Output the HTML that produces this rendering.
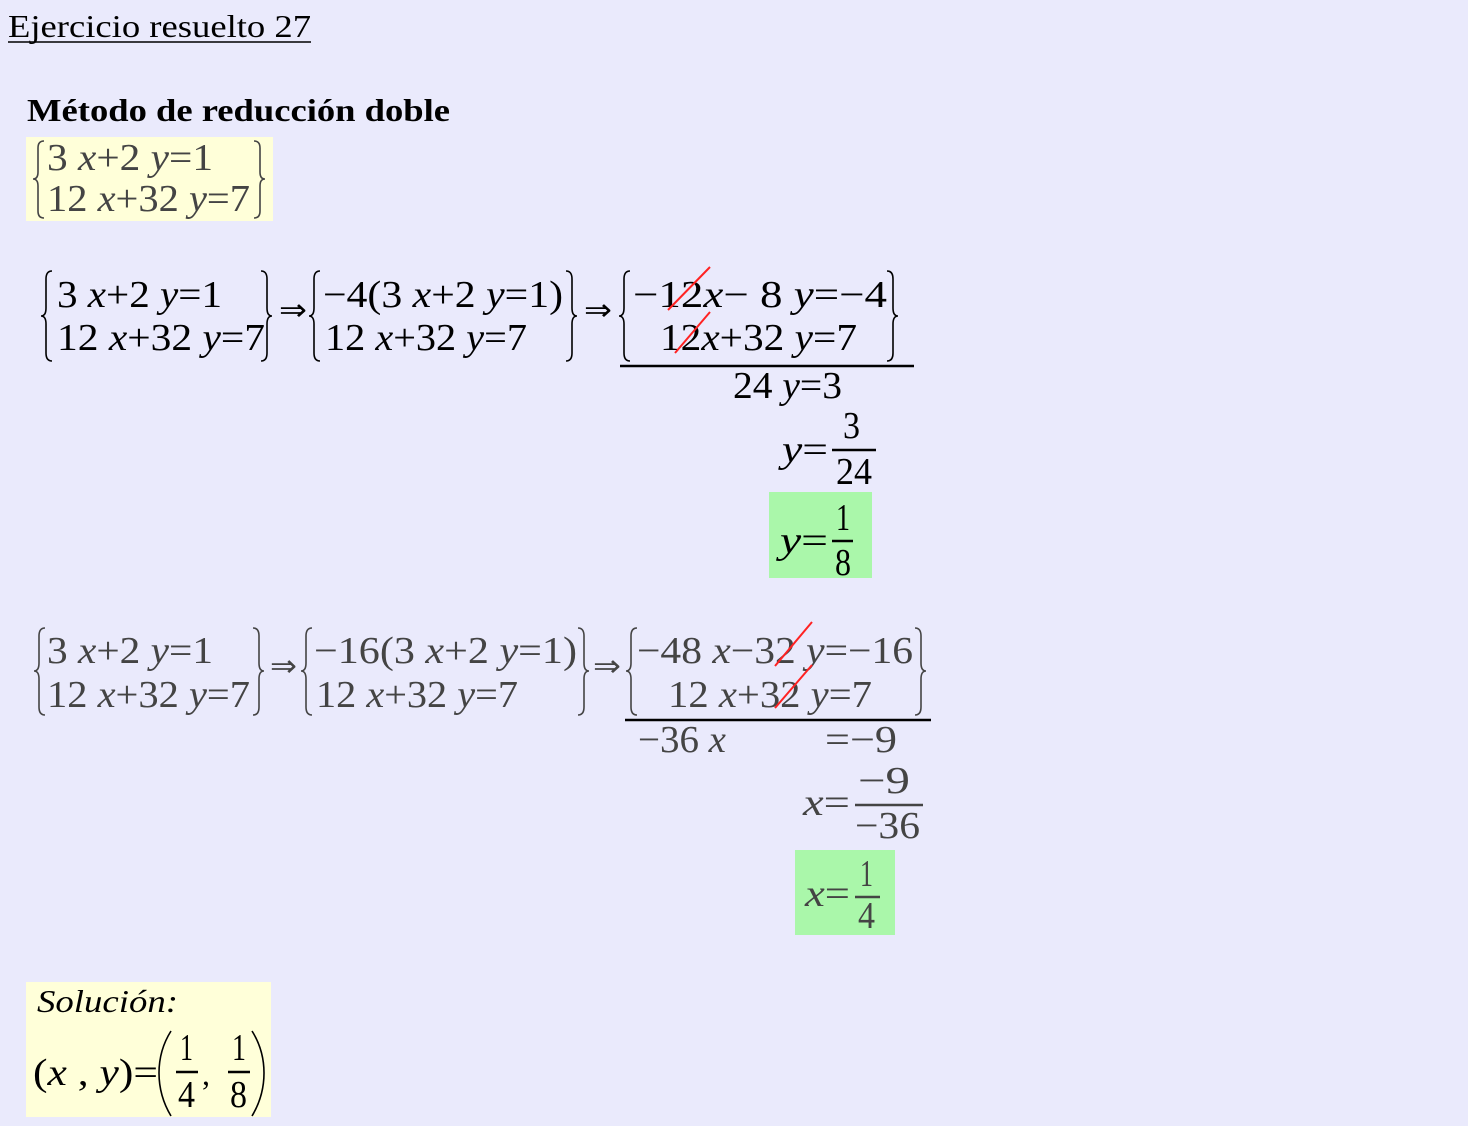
<!DOCTYPE html>
<html><head><meta charset="utf-8"><style>
html,body{margin:0;padding:0;background:#EAEAFC;width:1468px;height:1126px;overflow:hidden}
svg{display:block}
text{font-family:"Liberation Serif",serif;font-size:38px}
.i{font-style:italic}
.g{fill:#444}
.b{fill:none;stroke-width:1.6}
</style></head><body>
<svg width="1468" height="1126" viewBox="0 0 1468 1126">
<defs></defs>
<text x="8" y="37" style="font-size:32px" textLength="303" lengthAdjust="spacingAndGlyphs">Ejercicio resuelto 27</text>
<line x1="8" y1="42" x2="311" y2="42" stroke="#000" stroke-width="1.5"/>
<text x="27" y="121" style="font-size:32px;font-weight:bold" textLength="423" lengthAdjust="spacingAndGlyphs">Método de reducción doble</text>

<!-- yellow box 1 -->
<rect x="26" y="137" width="247" height="84" fill="#FFFFD9"/>
<g class="g">
<text x="47" y="170" textLength="166" lengthAdjust="spacingAndGlyphs">3 <tspan class="i">x</tspan>+2 <tspan class="i">y</tspan>=1</text>
<text x="47" y="211" textLength="203" lengthAdjust="spacingAndGlyphs">12 <tspan class="i">x</tspan>+32 <tspan class="i">y</tspan>=7</text>
</g>
<path class="b" stroke="#444" d="M44,141 Q38,141 38,148 L38,172 Q38,179 33,179 Q38,179 38,186 L38,211 Q38,218 44,218"/>
<path class="b" stroke="#444" d="M254,141 Q260,141 260,148 L260,172 Q260,179 265,179 Q260,179 260,186 L260,211 Q260,218 254,218"/>

<!-- system 2 -->
<text x="57" y="307" textLength="165" lengthAdjust="spacingAndGlyphs">3 <tspan class="i">x</tspan>+2 <tspan class="i">y</tspan>=1</text>
<text x="57" y="350" textLength="208" lengthAdjust="spacingAndGlyphs">12 <tspan class="i">x</tspan>+32 <tspan class="i">y</tspan>=7</text>
<path class="b" stroke="#000" d="M52,271 Q46,271 46,279 L46,308 Q46,316 41,316 Q46,316 46,324 L46,353 Q46,361 52,361"/>
<path class="b" stroke="#000" d="M261,271 Q267,271 267,279 L267,308 Q267,316 272,316 Q267,316 267,324 L267,353 Q267,361 261,361"/>
<text x="279" y="320" style="font-size:30px" textLength="28" lengthAdjust="spacingAndGlyphs">⇒</text>
<text x="323" y="307" textLength="240" lengthAdjust="spacingAndGlyphs">−4(3 <tspan class="i">x</tspan>+2 <tspan class="i">y</tspan>=1)</text>
<text x="325" y="350" textLength="202" lengthAdjust="spacingAndGlyphs">12 <tspan class="i">x</tspan>+32 <tspan class="i">y</tspan>=7</text>
<path class="b" stroke="#000" d="M320,271 Q314,271 314,279 L314,308 Q314,316 309,316 Q314,316 314,324 L314,353 Q314,361 320,361"/>
<path class="b" stroke="#000" d="M566,271 Q572,271 572,279 L572,308 Q572,316 577,316 Q572,316 572,324 L572,353 Q572,361 566,361"/>
<text x="584" y="320" style="font-size:30px" textLength="28" lengthAdjust="spacingAndGlyphs">⇒</text>
<text x="633" y="307" textLength="254" lengthAdjust="spacingAndGlyphs">−12<tspan class="i">x</tspan>−  8 <tspan class="i">y</tspan>=−4</text>
<text x="660" y="350" textLength="197" lengthAdjust="spacingAndGlyphs">12<tspan class="i">x</tspan>+32 <tspan class="i">y</tspan>=7</text>
<path class="b" stroke="#000" d="M630,271 Q624,271 624,279 L624,308 Q624,316 619,316 Q624,316 624,324 L624,353 Q624,361 630,361"/>
<path class="b" stroke="#000" d="M887,271 Q893,271 893,279 L893,308 Q893,316 898,316 Q893,316 893,324 L893,353 Q893,361 887,361"/>
<line x1="668" y1="310" x2="710" y2="267" stroke="#f22" stroke-width="2"/>
<line x1="675" y1="353" x2="710" y2="312" stroke="#f22" stroke-width="2"/>
<line x1="620" y1="366" x2="914" y2="366" stroke="#000" stroke-width="2.5"/>
<text x="733" y="398" textLength="109" lengthAdjust="spacingAndGlyphs">24 <tspan class="i">y</tspan>=3</text>
<text x="782" y="462" textLength="46" lengthAdjust="spacingAndGlyphs"><tspan class="i">y</tspan>=</text>
<text x="843" y="438" textLength="17" lengthAdjust="spacingAndGlyphs">3</text>
<line x1="832" y1="450" x2="876" y2="450" stroke="#000" stroke-width="2.5"/>
<text x="836" y="484" textLength="36" lengthAdjust="spacingAndGlyphs">24</text>
<rect x="769" y="492" width="103" height="86" fill="#AAF7AA"/>
<text x="780" y="553" textLength="48" lengthAdjust="spacingAndGlyphs"><tspan class="i">y</tspan>=</text>
<text x="836" y="530" textLength="14" lengthAdjust="spacingAndGlyphs">1</text>
<line x1="832" y1="541" x2="853" y2="541" stroke="#000" stroke-width="2.5"/>
<text x="835" y="575" textLength="16" lengthAdjust="spacingAndGlyphs">8</text>

<!-- system 3 -->
<g class="g">
<text x="47" y="663" textLength="166" lengthAdjust="spacingAndGlyphs">3 <tspan class="i">x</tspan>+2 <tspan class="i">y</tspan>=1</text>
<text x="47" y="707" textLength="203" lengthAdjust="spacingAndGlyphs">12 <tspan class="i">x</tspan>+32 <tspan class="i">y</tspan>=7</text>
<text x="270" y="676" style="font-size:30px" textLength="27" lengthAdjust="spacingAndGlyphs">⇒</text>
<text x="314" y="663" textLength="263" lengthAdjust="spacingAndGlyphs">−16(3 <tspan class="i">x</tspan>+2 <tspan class="i">y</tspan>=1)</text>
<text x="316" y="707" textLength="202" lengthAdjust="spacingAndGlyphs">12 <tspan class="i">x</tspan>+32 <tspan class="i">y</tspan>=7</text>
<text x="593" y="676" style="font-size:30px" textLength="28" lengthAdjust="spacingAndGlyphs">⇒</text>
<text x="637" y="663" textLength="276" lengthAdjust="spacingAndGlyphs">−48 <tspan class="i">x</tspan>−32 <tspan class="i">y</tspan>=−16</text>
<text x="668" y="707" textLength="204" lengthAdjust="spacingAndGlyphs">12 <tspan class="i">x</tspan>+32 <tspan class="i">y</tspan>=7</text>
<text x="638" y="752" textLength="88" lengthAdjust="spacingAndGlyphs">−36 <tspan class="i">x</tspan></text>
<text x="825" y="752" textLength="72" lengthAdjust="spacingAndGlyphs">=−9</text>
<text x="803" y="815" textLength="47" lengthAdjust="spacingAndGlyphs"><tspan class="i">x</tspan>=</text>
<text x="858" y="793" textLength="52" lengthAdjust="spacingAndGlyphs">−9</text>
<text x="855" y="838" textLength="65" lengthAdjust="spacingAndGlyphs">−36</text>
</g>
<path class="b" stroke="#444" d="M45,628 Q39,628 39,636 L39,663 Q39,671 34,671 Q39,671 39,679 L39,707 Q39,715 45,715"/>
<path class="b" stroke="#444" d="M253,628 Q259,628 259,636 L259,663 Q259,671 264,671 Q259,671 259,679 L259,707 Q259,715 253,715"/>
<path class="b" stroke="#444" d="M312,628 Q306,628 306,636 L306,663 Q306,671 301,671 Q306,671 306,679 L306,707 Q306,715 312,715"/>
<path class="b" stroke="#444" d="M578,628 Q584,628 584,636 L584,663 Q584,671 589,671 Q584,671 584,679 L584,707 Q584,715 578,715"/>
<path class="b" stroke="#444" d="M637,628 Q631,628 631,636 L631,663 Q631,671 626,671 Q631,671 631,679 L631,707 Q631,715 637,715"/>
<path class="b" stroke="#444" d="M915,628 Q921,628 921,636 L921,663 Q921,671 926,671 Q921,671 921,679 L921,707 Q921,715 915,715"/>
<line x1="775" y1="666" x2="812" y2="622" stroke="#f22" stroke-width="2"/>
<line x1="775" y1="708" x2="812" y2="665" stroke="#f22" stroke-width="2"/>
<line x1="625" y1="720" x2="931" y2="720" stroke="#000" stroke-width="2.5"/>
<line x1="855" y1="805" x2="923" y2="805" stroke="#444" stroke-width="2.5"/>
<rect x="795" y="850" width="100" height="85" fill="#AAF7AA"/>
<g class="g">
<text x="805" y="906" textLength="45" lengthAdjust="spacingAndGlyphs"><tspan class="i">x</tspan>=</text>
<text x="860" y="886" textLength="13" lengthAdjust="spacingAndGlyphs">1</text>
<text x="858" y="928" textLength="17" lengthAdjust="spacingAndGlyphs">4</text>
</g>
<line x1="855" y1="897" x2="880" y2="897" stroke="#444" stroke-width="2.5"/>

<!-- solution -->
<rect x="26" y="982" width="245" height="135" fill="#FFFFD9"/>
<text x="37" y="1012" class="i" style="font-size:32px" textLength="141" lengthAdjust="spacingAndGlyphs">Solución:</text>
<text x="33" y="1085" textLength="125" lengthAdjust="spacingAndGlyphs">(<tspan class="i">x</tspan> , <tspan class="i">y</tspan>)=</text>
<path class="b" stroke="#000" stroke-width="2" d="M171,1031 Q159,1050 159,1073 Q159,1096 171,1116"/>
<path class="b" stroke="#000" stroke-width="2" d="M252,1031 Q264,1050 264,1073 Q264,1096 252,1116"/>
<text x="180" y="1060" textLength="13" lengthAdjust="spacingAndGlyphs">1</text>
<line x1="176" y1="1072" x2="198" y2="1072" stroke="#000" stroke-width="2.5"/>
<text x="178" y="1107" textLength="17" lengthAdjust="spacingAndGlyphs">4</text>
<text x="202" y="1085" style="font-size:32px">,</text>
<text x="232" y="1060" textLength="14" lengthAdjust="spacingAndGlyphs">1</text>
<line x1="228" y1="1072" x2="250" y2="1072" stroke="#000" stroke-width="2.5"/>
<text x="230" y="1107" textLength="17" lengthAdjust="spacingAndGlyphs">8</text>
</svg>
</body></html>
